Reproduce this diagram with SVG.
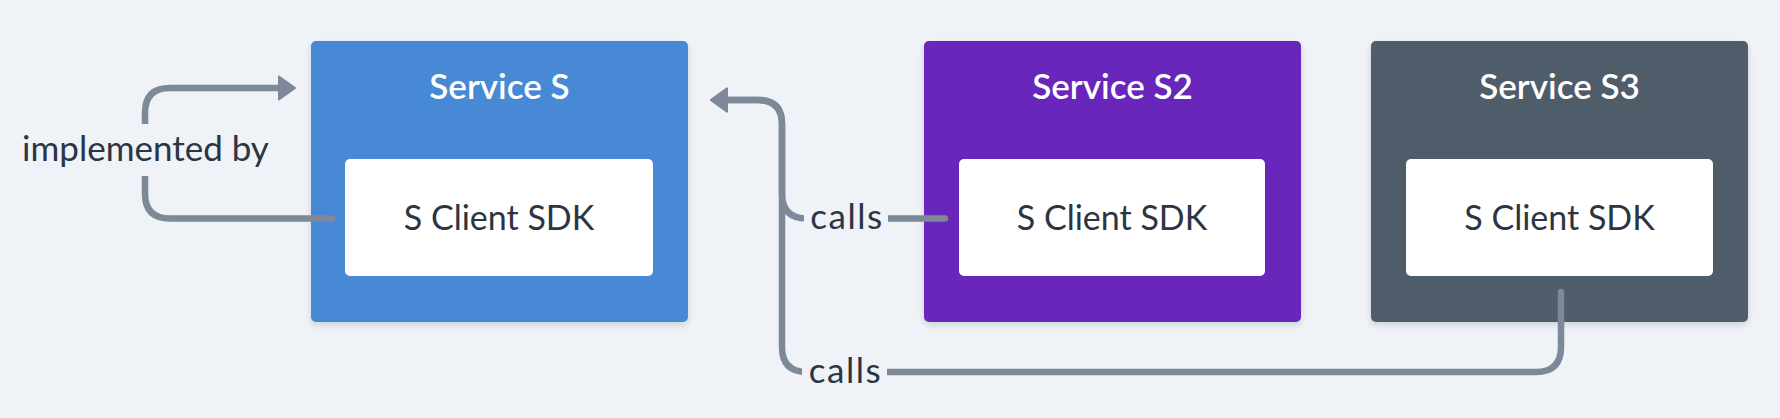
<svg xmlns="http://www.w3.org/2000/svg" width="1780" height="418" viewBox="0 0 1780 418">
  <defs>
    <filter id="shadow" x="-10%" y="-10%" width="120%" height="125%">
      <feDropShadow dx="0" dy="3" stdDeviation="3" flood-color="#1f2937" flood-opacity="0.15"/>
    </filter>
    <marker id="arrow" viewBox="0 0 18 26" refX="2" refY="13" markerWidth="18" markerHeight="26" markerUnits="userSpaceOnUse" orient="auto">
      <path d="M1,1.5 L17,13 L1,24.5 Z" fill="#7d8998" stroke="#7d8998" stroke-width="2" stroke-linejoin="round"/>
    </marker>
    <style>
      .svc { filter: url(#shadow); }
      .inner { fill: #ffffff; }
      .title { font-family: Lato, "Liberation Sans", sans-serif; font-size: 35px; font-weight: 600; fill: #ffffff; text-anchor: middle; }
      .sdk { font-family: Lato, "Liberation Sans", sans-serif; font-size: 34px; fill: #2b3544; text-anchor: middle; }
      .lbl { font-family: Lato, "Liberation Sans", sans-serif; font-size: 35px; fill: #2b3544; text-anchor: middle; }
      .calls { letter-spacing: 1.5px; }
      .conn { fill: none; stroke: #7d8998; stroke-width: 6.5; stroke-linecap: round; stroke-linejoin: round; }
      .mask { fill: #eff2f6; }
    </style>
  </defs>
  <rect x="0" y="0" width="1780" height="418" fill="#eff2f6"/>

  <g id="service-s">
    <rect class="svc" x="311" y="41" width="377" height="281" rx="5" fill="#4689d5"/>
    <text class="title" x="499.5" y="99">Service S</text>
    <g id="sdk-s">
      <rect class="inner" x="345" y="159" width="308" height="117" rx="5"/>
      <text class="sdk" x="499" y="230">S Client SDK</text>
    </g>
  </g>

  <g id="service-s2">
    <rect class="svc" x="924" y="41" width="377" height="281" rx="5" fill="#6827bb"/>
    <text class="title" x="1112.5" y="99">Service S2</text>
    <g id="sdk-s2">
      <rect class="inner" x="959" y="159" width="306" height="117" rx="5"/>
      <text class="sdk" x="1112" y="230">S Client SDK</text>
    </g>
  </g>

  <g id="service-s3">
    <rect class="svc" x="1371" y="41" width="377" height="281" rx="5" fill="#4f5b69"/>
    <text class="title" x="1559.5" y="99">Service S3</text>
    <g id="sdk-s3">
      <rect class="inner" x="1406" y="159" width="307" height="117" rx="5"/>
      <text class="sdk" x="1559.5" y="230">S Client SDK</text>
    </g>
  </g>

  <g id="connectors">
    <path class="conn" d="M332 218.5 L170 218.5 Q145 218.5 145 193.5 L145 113 Q145 88 170 88 L280 88" marker-end="url(#arrow)"/>
    <path class="conn" d="M945 218.5 L807 218.5 Q782 218.5 782 193.5 L782 124 Q782 100 758 100 L726 100" marker-end="url(#arrow)"/>
    <path class="conn" d="M1561 292 L1561 347 Q1561 372 1536 372 L807 372 Q782 372 782 347 L782 124 Q782 100 758 100 L726 100" marker-end="url(#arrow)"/>
    <g id="label-implemented">
      <rect class="mask" x="16" y="124" width="260" height="52"/>
      <text class="lbl" x="145.5" y="161">implemented by</text>
    </g>
    <g id="label-calls-1">
      <rect class="mask" x="804" y="198" width="84" height="40"/>
      <text class="lbl calls" x="847" y="229">calls</text>
    </g>
    <g id="label-calls-2">
      <rect class="mask" x="802" y="352" width="85" height="40"/>
      <text class="lbl calls" x="845.5" y="383">calls</text>
    </g>
  </g>
</svg>
